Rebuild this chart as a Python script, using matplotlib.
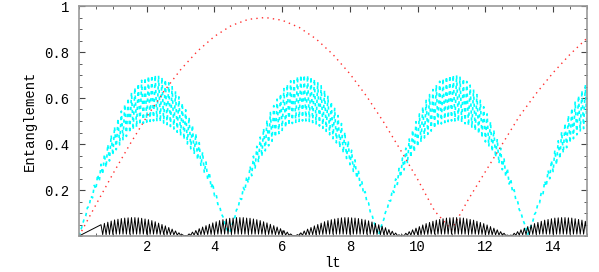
import numpy as np
import matplotlib.pyplot as plt
from matplotlib.ticker import MultipleLocator

# red dotted curve, read every 0.5 in lt
red_t = np.arange(0, 15.01, 0.5)
red = [0.0, 0.136, 0.270, 0.398, 0.518, 0.627, 0.723, 0.804, 0.868, 0.915,
       0.942, 0.950, 0.938, 0.907, 0.857, 0.789, 0.705, 0.606, 0.494, 0.372,
       0.246, 0.109, 0.027, 0.160, 0.280, 0.400, 0.520, 0.620, 0.710, 0.790,
       0.860]

# cyan dashed curve: tops of the fast wiggle (lt = 0.05, 0.15, ...)
cyan_hi = [0.025, 0.074, 0.124, 0.172, 0.220, 0.267, 0.312, 0.356, 0.398, 0.438,
           0.475, 0.511, 0.543, 0.573, 0.600, 0.624, 0.645, 0.663, 0.677, 0.688,
           0.695, 0.699, 0.700, 0.697, 0.690, 0.680, 0.666, 0.649, 0.629, 0.605,
           0.578, 0.549, 0.517, 0.482, 0.445, 0.406, 0.365, 0.322, 0.277, 0.230,
           0.183, 0.134, 0.084, 0.035,
           0.015, 0.064, 0.114, 0.163, 0.211, 0.258, 0.303, 0.347, 0.390, 0.430,
           0.468, 0.504, 0.537, 0.567, 0.595, 0.619, 0.641, 0.660, 0.675, 0.686,
           0.694, 0.699, 0.700, 0.698, 0.692, 0.682, 0.669, 0.653, 0.633, 0.610,
           0.584, 0.555, 0.524, 0.489, 0.452, 0.414, 0.373, 0.331, 0.286, 0.240,
           0.193, 0.144, 0.094, 0.045,
           0.005, 0.055, 0.104, 0.153, 0.201, 0.248, 0.294, 0.339, 0.382, 0.422,
           0.461, 0.497, 0.531, 0.562, 0.590, 0.615, 0.637, 0.657, 0.673, 0.685,
           0.693, 0.698, 0.700, 0.699, 0.693, 0.684, 0.672, 0.656, 0.637, 0.615,
           0.590, 0.562, 0.531, 0.497, 0.461, 0.422, 0.382, 0.339, 0.294, 0.248,
           0.201, 0.153, 0.104, 0.055, 0.006,
           0.045, 0.094, 0.143, 0.191, 0.239, 0.285, 0.329, 0.373, 0.414, 0.453,
           0.490, 0.524, 0.556, 0.585, 0.610, 0.633, 0.653]
# bottoms of the wiggle (lt = 0.1, 0.2, ...)
cyan_lo = [0.046, 0.088, 0.129, 0.166, 0.203, 0.237, 0.268, 0.298, 0.326, 0.351,
           0.375, 0.396, 0.416, 0.433, 0.448, 0.462, 0.473, 0.483, 0.490, 0.495,
           0.498, 0.500, 0.499, 0.497, 0.491, 0.484, 0.476, 0.465, 0.451, 0.436,
           0.419, 0.400, 0.379, 0.356, 0.331, 0.304, 0.275, 0.244, 0.210, 0.175,
           0.137, 0.097, 0.055, 0.020,
           0.038, 0.080, 0.121, 0.159, 0.196, 0.230, 0.262, 0.292, 0.320, 0.346,
           0.370, 0.392, 0.412, 0.430, 0.445, 0.459, 0.471, 0.481, 0.489, 0.494,
           0.498, 0.500, 0.500, 0.498, 0.493, 0.487, 0.478, 0.468, 0.455, 0.440,
           0.423, 0.405, 0.384, 0.361, 0.337, 0.310, 0.281, 0.251, 0.218, 0.183,
           0.145, 0.105, 0.064, 0.025,
           0.030, 0.072, 0.113, 0.152, 0.189, 0.224, 0.256, 0.287, 0.315, 0.341,
           0.365, 0.388, 0.408, 0.426, 0.442, 0.456, 0.468, 0.479, 0.487, 0.493,
           0.497, 0.500, 0.500, 0.498, 0.494, 0.488, 0.480, 0.470, 0.458, 0.444,
           0.427, 0.409, 0.389, 0.367, 0.342, 0.316, 0.288, 0.258, 0.226, 0.191,
           0.154, 0.114, 0.073, 0.032, 0.025,
           0.064, 0.105, 0.144, 0.181, 0.216, 0.249, 0.280, 0.309, 0.336, 0.361,
           0.384, 0.405, 0.423, 0.440, 0.454, 0.467, 0.478]

# black solid curve: tops of the wiggle (lt = 0.65, 0.75, ...)
black_hi = [0.049, 0.055, 0.060, 0.065, 0.070, 0.073, 0.076, 0.078, 0.079, 0.080,
            0.080, 0.079, 0.077, 0.074, 0.071, 0.067, 0.062, 0.056, 0.050, 0.044,
            0.037, 0.030, 0.022, 0.014, 0.006,
            0.002, 0.009, 0.017, 0.024, 0.032, 0.039, 0.045, 0.051, 0.057, 0.062,
            0.067, 0.071, 0.074, 0.077, 0.078, 0.080, 0.080, 0.080, 0.078, 0.077,
            0.074, 0.071, 0.067, 0.062, 0.057, 0.051, 0.045, 0.039, 0.032, 0.024,
            0.017, 0.009, 0.002,
            0.006, 0.014, 0.022, 0.030, 0.037, 0.044, 0.050, 0.056, 0.062, 0.067,
            0.071, 0.074, 0.077, 0.079, 0.080, 0.080, 0.079, 0.078, 0.076, 0.073,
            0.070, 0.066, 0.061, 0.055, 0.049, 0.043, 0.036, 0.028, 0.021, 0.013,
            0.005,
            0.004, 0.012, 0.019, 0.027, 0.034, 0.041, 0.048, 0.054, 0.059, 0.064,
            0.069, 0.072, 0.075, 0.078, 0.079, 0.080, 0.080, 0.079, 0.078, 0.075,
            0.072, 0.069, 0.064, 0.059, 0.054, 0.048, 0.041, 0.034, 0.027, 0.019,
            0.012, 0.004,
            0.004, 0.012, 0.019, 0.027, 0.034, 0.041, 0.048, 0.054, 0.059, 0.064,
            0.069, 0.072, 0.075, 0.078, 0.079, 0.080, 0.080, 0.079, 0.078, 0.075,
            0.072, 0.069, 0.064]
# bottoms (lt = 0.7, 0.8, ...)
black_lo = [0.006, 0.006, 0.007, 0.007, 0.008, 0.008, 0.008, 0.008, 0.008, 0.008,
            0.008, 0.008, 0.008, 0.008, 0.008, 0.008, 0.008, 0.007, 0.007, 0.006,
            0.006, 0.005, 0.004, 0.003, 0.001,
            0.001, 0.003, 0.004, 0.005, 0.006, 0.006, 0.007, 0.007, 0.008, 0.008,
            0.008, 0.008, 0.008, 0.008, 0.008, 0.008, 0.008, 0.008, 0.008, 0.008,
            0.008, 0.008, 0.008, 0.008, 0.007, 0.007, 0.006, 0.006, 0.005, 0.004,
            0.003, 0.002, 0.001,
            0.002, 0.003, 0.004, 0.005, 0.006, 0.006, 0.007, 0.007, 0.008, 0.008,
            0.008, 0.008, 0.008, 0.008, 0.008, 0.008, 0.008, 0.008, 0.008, 0.008,
            0.008, 0.008, 0.007, 0.007, 0.006, 0.006, 0.005, 0.004, 0.003, 0.002,
            0.001,
            0.001, 0.003, 0.004, 0.005, 0.006, 0.006, 0.007, 0.007, 0.008, 0.008,
            0.008, 0.008, 0.008, 0.008, 0.008, 0.008, 0.008, 0.008, 0.008, 0.008,
            0.008, 0.008, 0.007, 0.007, 0.006, 0.006, 0.005, 0.005, 0.004, 0.003,
            0.002, 0.001,
            0.001, 0.003, 0.004, 0.005, 0.006, 0.006, 0.007, 0.007, 0.008, 0.008,
            0.008, 0.008, 0.008, 0.008, 0.008, 0.008, 0.008, 0.008, 0.008, 0.008,
            0.008, 0.008, 0.008]


def zigzag(t0, hi, lo, step=0.1):
    # alternate top / bottom of the fast wiggle
    n = min(len(hi), len(lo))
    t = np.empty(2 * n)
    y = np.empty(2 * n)
    t[0::2] = t0 + step * np.arange(n)
    t[1::2] = t0 + step / 2 + step * np.arange(n)
    y[0::2] = hi[:n]
    y[1::2] = lo[:n]
    return np.r_[0, t], np.r_[0, y]


cyan_t, cyan_y = zigzag(0.05, cyan_hi, cyan_lo)
black_t, black_y = zigzag(0.65, black_hi, black_lo)

mono = 'Liberation Mono'
fig = plt.figure(figsize=(5.99, 2.72), dpi=100)
ax = fig.add_axes([79 / 599, 36 / 272, 508 / 599, 230 / 272])

ax.plot(cyan_t, cyan_y, color='#00ffff', lw=1.2, linestyle=(0, (2.0, 2.2)))
ax.plot(red_t, red, color='#ff3030', lw=1.0, linestyle=(0, (1, 3)))
ax.plot(black_t, black_y, color='black', lw=0.7)

ax.set_xlim(0, 15)
ax.set_ylim(0, 1)
ax.set_xticks([2, 4, 6, 8, 10, 12, 14])
ax.set_yticks([0.2, 0.4, 0.6, 0.8, 1.0])
ax.set_yticklabels(['0.2', '0.4', '0.6', '0.8', '1'])
ax.xaxis.set_minor_locator(MultipleLocator(0.5))
ax.yaxis.set_minor_locator(MultipleLocator(0.05))
ax.tick_params(which='both', direction='in', top=True, right=True,
               color='#444444', labelsize=10)
ax.tick_params(axis='x', pad=3)
ax.tick_params(axis='y', pad=7)
ax.tick_params(which='major', length=4, width=0.8)
ax.tick_params(which='minor', length=2, width=0.6)
for lab in ax.get_xticklabels() + ax.get_yticklabels():
    lab.set_fontfamily(mono)
for s in ax.spines.values():
    s.set_color('#999999')
    s.set_linewidth(1.2)

ax.set_xlabel('lt', fontfamily=mono, fontsize=10, labelpad=1)
ax.set_ylabel('Entanglement', fontfamily=mono, fontsize=10, labelpad=5)

fig.savefig('out.png', dpi=100)
